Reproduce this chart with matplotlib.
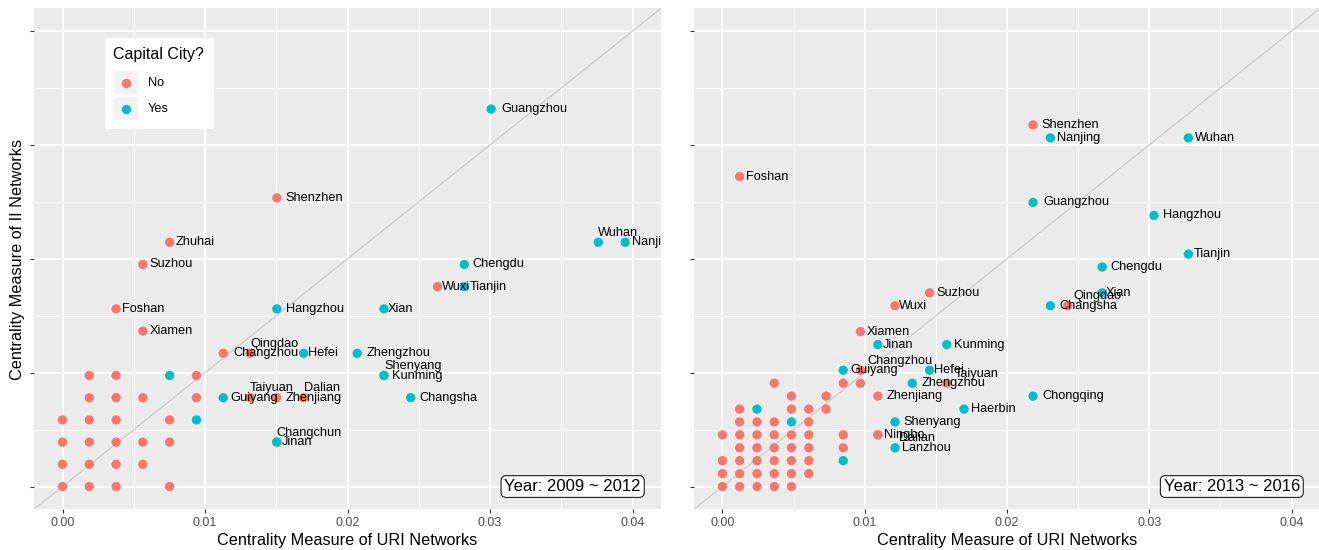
import matplotlib
matplotlib.use("Agg")
import matplotlib.pyplot as plt
from matplotlib.patches import Rectangle
from matplotlib.lines import Line2D
from matplotlib.textpath import TextPath
from matplotlib.font_manager import FontProperties
from matplotlib.ticker import MultipleLocator, NullFormatter, FuncFormatter
from matplotlib.transforms import ScaledTranslation

plt.rcParams['font.family'] = ['Liberation Sans', 'DejaVu Sans']

# ---------------- 2009 ~ 2012 ----------------
cities_a = ["Guangzhou", "Shenzhen", "Zhuhai", "Wuhan", "Nanjing", "Suzhou", "Chengdu",
            "Wuxi", "Tianjin", "Foshan", "Hangzhou", "Xian", "Xiamen", "Changzhou",
            "Qingdao", "Hefei", "Zhengzhou", "Shenyang", "Kunming", "Guiyang", "Taiyuan",
            "Zhenjiang", "Dalian", "Changsha", "Changchun", "Jinan"]
uri_a = [0.03008, 0.01504, 0.00752, 0.0376, 0.03948, 0.00564, 0.0282,
         0.02632, 0.0282, 0.00376, 0.01504, 0.02256, 0.00564, 0.01128,
         0.01316, 0.01692, 0.02068, 0.02256, 0.02256, 0.01128, 0.01316,
         0.01504, 0.01692, 0.02444, 0.01504, 0.01504]
ii_a = [0.03315, 0.02535, 0.02145, 0.02145, 0.02145, 0.0195, 0.0195,
        0.01755, 0.01755, 0.0156, 0.0156, 0.0156, 0.01365, 0.0117,
        0.0117, 0.0117, 0.0117, 0.00975, 0.00975, 0.0078, 0.0078,
        0.0078, 0.0078, 0.0078, 0.0039, 0.0039]
capital_a = ["Yes", "No", "No", "Yes", "Yes", "No", "Yes",
             "No", "Yes", "No", "Yes", "Yes", "No", "No",
             "No", "Yes", "Yes", "Yes", "Yes", "Yes", "No",
             "No", "No", "Yes", "Yes", "Yes"]

# other (unlabelled) cities, 2009 ~ 2012
other_uri_a = [0.0, 0.00188, 0.00376, 0.00752,
               0.0, 0.00188, 0.00376, 0.00564,
               0.0, 0.00188, 0.00376, 0.00564, 0.00752,
               0.0, 0.00188, 0.00376, 0.00752, 0.0094,
               0.00188, 0.00376, 0.00564, 0.0094,
               0.00188, 0.00376, 0.00752, 0.0094]
other_ii_a = [0.0, 0.0, 0.0, 0.0,
              0.00195, 0.00195, 0.00195, 0.00195,
              0.0039, 0.0039, 0.0039, 0.0039, 0.0039,
              0.00585, 0.00585, 0.00585, 0.00585, 0.00585,
              0.0078, 0.0078, 0.0078, 0.0078,
              0.00975, 0.00975, 0.00975, 0.00975]
other_capital_a = ["No", "No", "No", "No",
                   "No", "No", "No", "No",
                   "No", "No", "No", "No", "No",
                   "No", "No", "No", "No", "Yes",
                   "No", "No", "No", "No",
                   "No", "No", "Yes", "No"]

# ---------------- 2013 ~ 2016 ----------------
cities_b = ["Shenzhen", "Nanjing", "Wuhan", "Foshan", "Guangzhou", "Hangzhou", "Tianjin",
            "Chengdu", "Suzhou", "Xian", "Wuxi", "Changsha", "Qingdao", "Xiamen", "Jinan",
            "Kunming", "Guiyang", "Changzhou", "Hefei", "Zhengzhou", "Taiyuan", "Zhenjiang",
            "Chongqing", "Haerbin", "Shenyang", "Ningbo", "Dalian", "Lanzhou"]
uri_b = [0.02183, 0.02305, 0.03275, 0.00121, 0.02183, 0.03033, 0.03275,
         0.02669, 0.01456, 0.02669, 0.01213, 0.02305, 0.02426, 0.0097, 0.01092,
         0.01577, 0.00849, 0.0097, 0.01456, 0.01334, 0.01577, 0.01092,
         0.02183, 0.01698, 0.01213, 0.01092, 0.01092, 0.01213]
ii_b = [0.03175, 0.03062, 0.03062, 0.02722, 0.02495, 0.02381, 0.02041,
        0.01928, 0.01701, 0.01701, 0.01588, 0.01588, 0.01588, 0.01361, 0.01247,
        0.01247, 0.01021, 0.01021, 0.01021, 0.00907, 0.00907, 0.00794,
        0.00794, 0.0068, 0.00567, 0.00454, 0.00454, 0.0034]
capital_b = ["No", "Yes", "Yes", "No", "Yes", "Yes", "Yes",
             "Yes", "No", "Yes", "No", "Yes", "No", "No", "Yes",
             "Yes", "Yes", "No", "Yes", "Yes", "No", "No",
             "Yes", "Yes", "Yes", "No", "No", "Yes"]

# other (unlabelled) cities, 2013 ~ 2016
other_uri_b = [0.0, 0.00121, 0.00243, 0.00364, 0.00485,
               0.0, 0.00121, 0.00243, 0.00364, 0.00485, 0.00607,
               0.0, 0.00121, 0.00243, 0.00364, 0.00485, 0.00607, 0.00849,
               0.00121, 0.00243, 0.00364, 0.00485, 0.00607, 0.00849,
               0.0, 0.00121, 0.00243, 0.00364, 0.00485, 0.00607, 0.00849,
               0.00121, 0.00243, 0.00364, 0.00485, 0.00607,
               0.00121, 0.00243, 0.00485, 0.00607, 0.00728,
               0.00485, 0.00728,
               0.00364, 0.00849, 0.0097]
other_ii_b = [0.0, 0.0, 0.0, 0.0, 0.0,
              0.00113, 0.00113, 0.00113, 0.00113, 0.00113, 0.00113,
              0.00227, 0.00227, 0.00227, 0.00227, 0.00227, 0.00227, 0.00227,
              0.0034, 0.0034, 0.0034, 0.0034, 0.0034, 0.0034,
              0.00454, 0.00454, 0.00454, 0.00454, 0.00454, 0.00454, 0.00454,
              0.00567, 0.00567, 0.00567, 0.00567, 0.00567,
              0.0068, 0.0068, 0.0068, 0.0068, 0.0068,
              0.00794, 0.00794,
              0.00907, 0.00907, 0.00907]
other_capital_b = ["No", "No", "No", "No", "No",
                   "No", "No", "No", "No", "No", "No",
                   "No", "No", "No", "No", "No", "No", "Yes",
                   "No", "No", "No", "No", "No", "No",
                   "No", "No", "No", "No", "No", "No", "No",
                   "No", "No", "No", "Yes", "No",
                   "No", "Yes", "No", "No", "No",
                   "No", "No",
                   "No", "No", "No"]

x_ticks = [0.00, 0.01, 0.02, 0.03, 0.04]
legend_levels = ["No", "Yes"]

# ---------------- styling ----------------
PALETTE = {"No": "#F8766D", "Yes": "#00BFC4"}
PANEL_BG = "#EBEBEB"
W, H = 1319, 550
DOT = 45            # marker area (pt^2)
LABEL_FS = 9.2
LABEL_FP = FontProperties(family="Liberation Sans", size=LABEL_FS)

# hand-placed labels (pixel offsets: right, up); others sit just right of the dot
nudges_a = {"Wuhan": (0, 9.5), "Qingdao": (0, 9.5), "Taiyuan": (0, 9.5),
            "Dalian": (0, 9.5), "Shenyang": (0, 9.5), "Changchun": (0, 9.5)}
nudges_b = {"Changzhou": (7, 9.4), "Qingdao": (5.5, 9.3), "Taiyuan": (8, 9.4),
            "Dalian": (21.5, -3.2)}

fig = plt.figure(figsize=(W / 100, H / 100), dpi=100)


def fx(px):
    return px / W


def fy(py):
    return 1 - py / H


def make_panel(left_px, right_px, top_px=8.3, bottom_px=509.3):
    ax = fig.add_axes([fx(left_px), fy(bottom_px),
                       (right_px - left_px) / W, (bottom_px - top_px) / H])
    ax.set_facecolor(PANEL_BG)
    for sp in ax.spines.values():
        sp.set_visible(False)
    ax.set_xlim(-0.002, 0.042)
    ax.set_ylim(-0.002, 0.042)
    ax.set_xticks(x_ticks)
    ax.xaxis.set_major_formatter(FuncFormatter(lambda v, p: f"{v:.2f}"))
    ax.yaxis.set_major_locator(MultipleLocator(0.01))
    ax.yaxis.set_major_formatter(NullFormatter())
    ax.xaxis.set_minor_locator(MultipleLocator(0.005))
    ax.yaxis.set_minor_locator(MultipleLocator(0.005))
    ax.grid(which="major", color="white", lw=1.4)
    ax.grid(which="minor", color="white", lw=0.7)
    ax.set_axisbelow(True)
    ax.tick_params(which="major", length=3, width=0.8, color="#333333",
                   labelsize=9, labelcolor="#4D4D4D", pad=2.5)
    ax.tick_params(which="minor", length=0)
    ax.axline((0, 0), slope=1, color="#CBCBCB", lw=0.9, zorder=1.5)
    return ax


def draw_panel(ax, names, xs, ys, caps, oxs, oys, ocaps, nudges, year_text):
    ax.scatter(oxs, oys, s=DOT, c=[PALETTE[c] for c in ocaps],
               edgecolors="none", zorder=3)
    ax.scatter(xs, ys, s=DOT, c=[PALETTE[c] for c in caps],
               edgecolors="none", zorder=3)
    for name, x, y in zip(names, xs, ys):
        if name in nudges:
            dx_pt = nudges[name][0] * 0.72
            dy_pt = nudges[name][1] * 0.72
        else:
            width_pt = TextPath((0, 0), name, prop=LABEL_FP).get_extents().width
            dx_pt = 0.155 * width_pt
            dy_pt = 0
        tr = ax.transData + ScaledTranslation(dx_pt / 72, dy_pt / 72, fig.dpi_scale_trans)
        ax.text(x, y, name, transform=tr, ha="left", va="center",
                fontsize=LABEL_FS, color="black", zorder=4, clip_on=True)
    ax.text(0.0358, 0.0, year_text, ha="center", va="center", fontsize=12,
            color="black", zorder=5,
            bbox=dict(boxstyle="round,pad=0.2,rounding_size=0.3",
                      fc="white", ec="black", lw=0.7))


ax1 = make_panel(34, 661)
ax2 = make_panel(694, 1320)

draw_panel(ax1, cities_a, uri_a, ii_a, capital_a,
           other_uri_a, other_ii_a, other_capital_a, nudges_a, "Year: 2009 ~ 2012")
draw_panel(ax2, cities_b, uri_b, ii_b, capital_b,
           other_uri_b, other_ii_b, other_capital_b, nudges_b, "Year: 2013 ~ 2016")

# axis titles
fig.text(fx(347.5), fy(540), "Centrality Measure of URI Networks",
         ha="center", va="center", fontsize=11.7)
fig.text(fx(1007), fy(540), "Centrality Measure of URI Networks",
         ha="center", va="center", fontsize=11.7)
fig.text(fx(18), fy(259), "Centrality Measure of II Networks",
         ha="center", va="center", rotation=90, fontsize=11.7)

# legend inside the first panel
fig.add_artist(Rectangle((fx(105), fy(129.3)), 109 / W, 91 / H,
                         transform=fig.transFigure, fc="white", ec="none", zorder=6))
fig.text(fx(113), fy(54.3), "Capital City?", ha="left", va="center",
         fontsize=11.5, zorder=7)
for k, (level, top) in enumerate(zip(legend_levels, [70.7, 96.7])):
    fig.add_artist(Rectangle((fx(113.7), fy(top + 23.6)), 24 / W, 23.6 / H,
                             transform=fig.transFigure, fc="#F2F2F2", ec="none", zorder=7))
    cy = top + 12
    fig.add_artist(Line2D([fx(125.7)], [fy(cy)], marker="o", ms=6.8, mec="none",
                          color=PALETTE[level], transform=fig.transFigure, zorder=8))
    fig.text(fx(147.7), fy(cy), level, ha="left", va="center", fontsize=9.2, zorder=8)

fig.savefig("out.png", dpi=100)
